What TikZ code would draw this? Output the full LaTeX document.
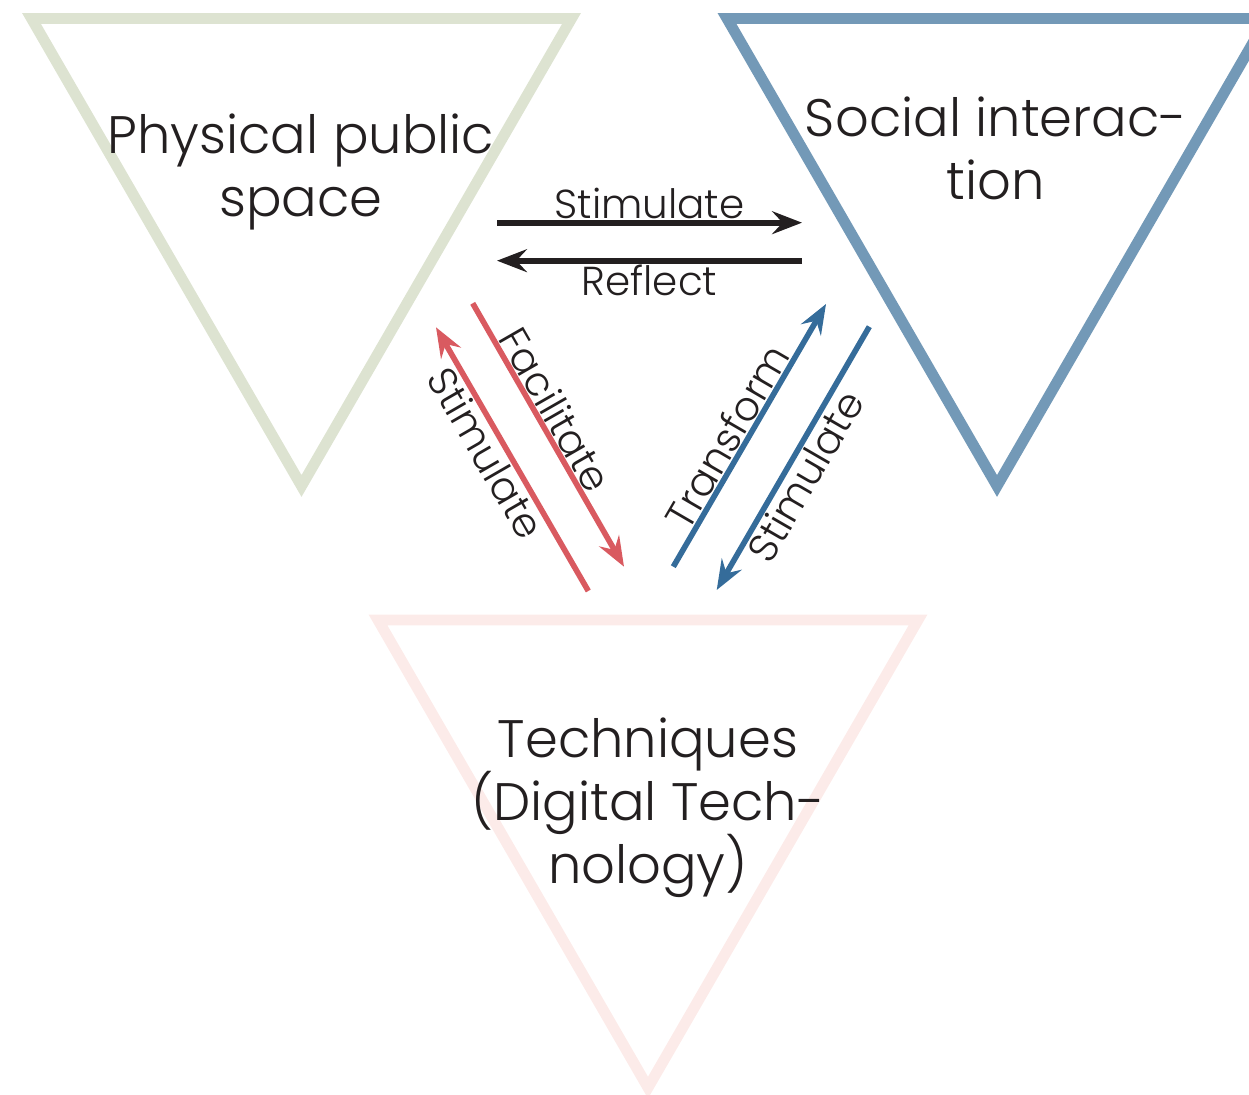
\documentclass[tikz,border=0pt]{standalone}
\usepackage{fontspec}
\setmainfont{Poppins Light}
\usetikzlibrary{arrows.meta}
\definecolor{sage}{HTML}{DDE3D1}
\definecolor{steel}{HTML}{7399B7}
\definecolor{blush}{HTML}{FCEBE9}
\definecolor{rosered}{HTML}{D95A60}
\definecolor{deepblue}{HTML}{356C9A}
\definecolor{ink}{HTML}{231F20}
\newcommand\titlefont{\fontsize{15}{17.9}\selectfont\lineskiplimit=-20pt\relax}

\begin{document}
\begin{tikzpicture}[x=0.01cm, y=-0.01cm,
    corner/.style={line width=3.1pt, line join=miter},
    title/.style={align=center, text=ink, inner sep=0pt, font=\titlefont},
    verb/.style={text=ink, inner sep=0.3pt, sloped, font=\fontsize{11.5}{14}\selectfont},
    link/.style={line width=1.6pt, -{Stealth[length=8.5pt, width=6.5pt, inset=3pt]}}]
  \useasboundingbox (0,0) rectangle (1249,1095);

  \draw[corner, sage] (31.5,18.5) -- (571.5,18.5) -- (301.5,486) -- cycle;
  \draw[corner, steel] (727,18.5) -- (1267,18.5) -- (997,486) -- cycle;
  \draw[corner, blush] (378,620) -- (918,620) -- (648,1087.6) -- cycle;

  \node[title] (space) at (301,172) {Physical public\\space};
  \node[title] (social) at (996,148) {Social interac-\\tion};
  \node[title] (tech) at (648,807.5) {Techniques\\(Digital Tech-\\nology)};

  \coordinate (ps1) at (497,222.7);   \coordinate (si1) at (802,222.7);
  \coordinate (si2) at (802,260.7);   \coordinate (ps2) at (497,260.7);
  \coordinate (ps3) at (472.7,303.3); \coordinate (te3) at (624,566.7);
  \coordinate (te4) at (588.3,591);   \coordinate (ps4) at (436,327.3);
  \coordinate (te5) at (673.3,566.7); \coordinate (si5) at (826,304);
  \coordinate (si6) at (869.3,326.7); \coordinate (te6) at (716.7,590);

  \draw[link, ink] (ps1) -- (si1) node[verb, pos=0.5, anchor=south] {Stimulate};
  \draw[link, ink] (si2) -- (ps2) node[verb, pos=0.5, anchor=north] {Reflect};
  \draw[link, rosered] (ps3) -- (te3) node[verb, pos=0.44, anchor=south] {Facilitate};
  \draw[link, rosered] (te4) -- (ps4) node[verb, pos=0.56, anchor=north] {Stimulate};
  \draw[link, deepblue] (te5) -- (si5) node[verb, pos=0.46, anchor=south] {Transform};
  \draw[link, deepblue] (si6) -- (te6) node[verb, pos=0.53, anchor=north] {Stimulate};
\end{tikzpicture}
\end{document}
